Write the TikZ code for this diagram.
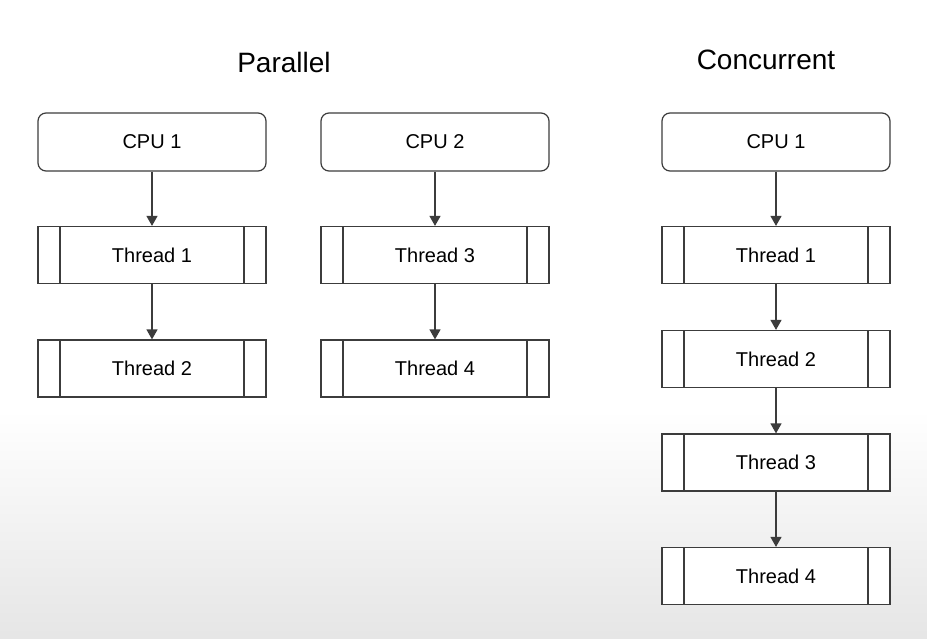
\documentclass[tikz,border=0pt]{standalone}
\usepackage{fontspec}
\setmainfont{Liberation Sans}
\usetikzlibrary{arrows.meta}
\definecolor{boxline}{HTML}{3C3C3C}

\begin{document}
\begin{tikzpicture}[x=1pt,y=-1pt,
  cpubox/.style={draw=boxline, line width=1.2pt, rounded corners=8pt, fill=white, minimum width=228pt, minimum height=58pt, font=\fontsize{20}{24}\selectfont},
  threadbox/.style={draw=boxline, line width=1.2pt, fill=white, minimum width=228pt, minimum height=57pt, font=\fontsize{20}{24}\selectfont,
    path picture={\draw[boxline, line width=1.2pt] ([xshift=22pt]path picture bounding box.north west) -- ([xshift=22pt]path picture bounding box.south west)
      ([xshift=-22pt]path picture bounding box.north east) -- ([xshift=-22pt]path picture bounding box.south east);}},
  title/.style={font=\fontsize{28}{32}\selectfont},
  flow/.style={draw=boxline, line width=1.2pt, -{Triangle[width=11pt,length=10pt]}}]
  % background
  \fill[white] (0,0) rectangle (927,639);
  \shade[top color=white, bottom color=gray!20] (0,410) rectangle (927,639);
  \useasboundingbox (0,0) rectangle (927,639);

  \node[title] (parallel) at (284,62) {Parallel};
  \node[title] (concurrent) at (766,60) {Concurrent};

  % parallel
  \node[cpubox] (pcpuA) at (152,142) {CPU 1};
  \node[threadbox] (pthA) at (152,255) {Thread 1};
  \node[threadbox] (pthB) at (152,368.5) {Thread 2};
  \node[cpubox] (pcpuB) at (435,142) {CPU 2};
  \node[threadbox] (pthC) at (435,255) {Thread 3};
  \node[threadbox] (pthD) at (435,368.5) {Thread 4};
  \draw[flow] (pcpuA) -- (pthA);
  \draw[flow] (pthA) -- (pthB);
  \draw[flow] (pcpuB) -- (pthC);
  \draw[flow] (pthC) -- (pthD);

  % concurrent
  \node[cpubox] (ccpu) at (776,142) {CPU 1};
  \node[threadbox] (cthA) at (776,255) {Thread 1};
  \node[threadbox] (cthB) at (776,359) {Thread 2};
  \node[threadbox] (cthC) at (776,462.5) {Thread 3};
  \node[threadbox] (cthD) at (776,576) {Thread 4};
  \draw[flow] (ccpu) -- (cthA);
  \draw[flow] (cthA) -- (cthB);
  \draw[flow] (cthB) -- (cthC);
  \draw[flow] (cthC) -- (cthD);
\end{tikzpicture}
\end{document}
